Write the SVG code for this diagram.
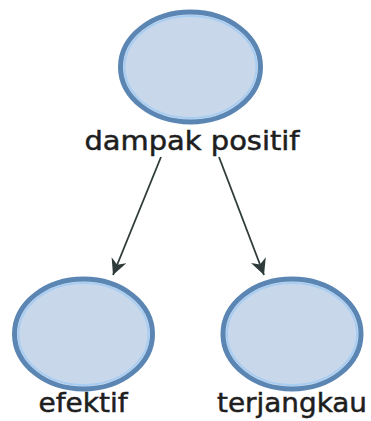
<svg xmlns="http://www.w3.org/2000/svg" width="371" height="421" viewBox="0 0 371 421">
  <defs>
    <marker id="arrow" viewBox="0 0 10 10" refX="10" refY="5" markerWidth="16" markerHeight="16" markerUnits="userSpaceOnUse" orient="auto">
      <path d="M0,0 L10,5 L0,10 L3,5 Z" fill="#2f3b3a"/>
    </marker>
  </defs>
  <style>
    .node ellipse.body { fill: #c8d8ea; stroke: #5b86b3; stroke-width: 5; }
    .node ellipse.glow { fill: none; stroke: #a8cdf2; stroke-width: 2; }
    .label { font-family: "DejaVu Sans", Verdana, sans-serif; font-size: 26px; fill: #1e1e1e; stroke: #1e1e1e; stroke-width: 0.5; text-anchor: middle; }
    .edge { stroke: #2f3b3a; stroke-width: 1.8; fill: none; marker-end: url(#arrow); }
  </style>
  <rect width="371" height="421" fill="#ffffff"/>

  <g id="connectors">
    <path class="edge" d="M161,157 L113,275"/>
    <path class="edge" d="M219,157 L264,275"/>
  </g>

  <g id="node-dampak-positif" class="node">
    <ellipse class="body" cx="190.5" cy="67" rx="70" ry="55"/>
    <ellipse class="glow" cx="190.5" cy="67" rx="66" ry="51"/>
    <text class="label" x="192" y="150" textLength="215" lengthAdjust="spacingAndGlyphs">dampak positif</text>
  </g>

  <g id="node-efektif" class="node">
    <ellipse class="body" cx="83.5" cy="334" rx="69" ry="55"/>
    <ellipse class="glow" cx="83.5" cy="334" rx="65" ry="51"/>
    <text class="label" x="83" y="412" textLength="89" lengthAdjust="spacingAndGlyphs">efektif</text>
  </g>

  <g id="node-terjangkau" class="node">
    <ellipse class="body" cx="292" cy="334" rx="69" ry="55"/>
    <ellipse class="glow" cx="292" cy="334" rx="65" ry="51"/>
    <text class="label" x="292" y="412" textLength="150" lengthAdjust="spacingAndGlyphs">terjangkau</text>
  </g>
</svg>
